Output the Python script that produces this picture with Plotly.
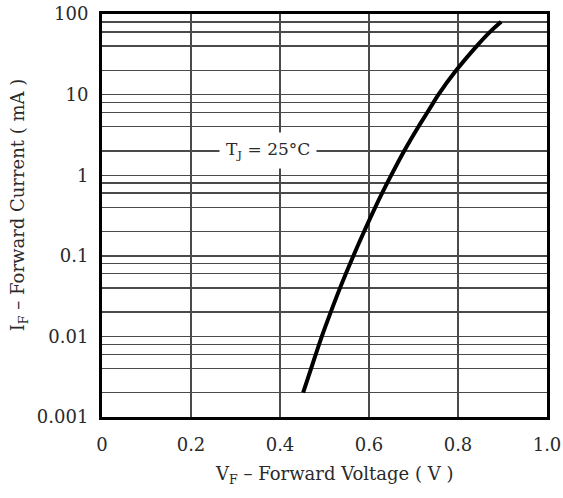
import math
import plotly.graph_objects as go

# Forward characteristic
vf_volts = [0.452, 0.470, 0.494, 0.514, 0.535, 0.565, 0.589, 0.614, 0.650,
            0.679, 0.711, 0.731, 0.745, 0.756, 0.796, 0.842, 0.872, 0.897]
if_ma = [0.002, 0.004, 0.01, 0.02, 0.04, 0.1, 0.2, 0.4, 1,
         2, 4, 6, 8, 10, 20, 40, 60, 80]

x_tick_vals = [0, 0.2, 0.4, 0.6, 0.8, 1.0]
x_tick_text = ["0", "0.2", "0.4", "0.6", "0.8", "1.0"]

y_tick_vals = [0.001, 0.01, 0.1, 1, 10, 100]
y_tick_text = ["0.001", "0.01", "0.1", "1", "10", "100"]
minor_mults = [2, 4, 6, 8]
y_minor_vals = [d * m for d in y_tick_vals[:-1] for m in minor_mults]

note_text = "T<sub>J</sub> = 25°C"
note_x = 0.373
note_y = 2

x_title = "V<sub>F</sub> – Forward Voltage ( V )"
y_title = "I<sub>F</sub> – Forward Current ( mA )"

FONT = "DejaVu Serif"
TXT = "#2a2a2a"
GRID = "#4a4a4a"

fig = go.Figure()
fig.add_trace(go.Scatter(
    x=vf_volts, y=if_ma, mode="lines",
    line=dict(color="black", width=4, shape="spline", smoothing=1),
    showlegend=False, hoverinfo="skip",
))

fig.add_annotation(
    x=note_x, y=math.log10(note_y), xref="x", yref="y",
    text=note_text, showarrow=False,
    font=dict(family=FONT, size=17, color=TXT),
    bgcolor="white", borderpad=6,
)
fig.add_annotation(
    x=0.521, y=-0.144, xref="paper", yref="paper",
    xanchor="center", yanchor="middle",
    text=x_title, showarrow=False,
    font=dict(family=FONT, size=18, color=TXT),
)
fig.add_annotation(
    x=-0.186, y=0.526, xref="paper", yref="paper",
    xanchor="center", yanchor="middle", textangle=-90,
    text=y_title, showarrow=False,
    font=dict(family=FONT, size=18, color=TXT),
)

fig.update_layout(
    width=563, height=498,
    margin=dict(l=102, r=16, t=14, b=81),
    paper_bgcolor="white", plot_bgcolor="white",
    font=dict(family=FONT, size=18, color=TXT),
)

fig.update_xaxes(
    range=[0, 1.0], tickvals=x_tick_vals, ticktext=x_tick_text,
    showgrid=True, gridcolor=GRID, gridwidth=1.4,
    showline=True, linecolor="black", linewidth=3, mirror=True,
    ticks="", zeroline=False, ticklabelstandoff=9, automargin=False,
    ticklabeloverflow="allow",
)
fig.update_yaxes(
    type="log", range=[-3, 2], tickvals=y_tick_vals, ticktext=y_tick_text,
    showgrid=True, gridcolor=GRID, gridwidth=1.4,
    minor=dict(tickvals=y_minor_vals, showgrid=True, gridcolor=GRID,
               gridwidth=1.4, ticks=""),
    showline=True, linecolor="black", linewidth=3, mirror=True,
    ticks="", zeroline=False, ticklabelstandoff=7, automargin=False,
    ticklabeloverflow="allow",
)

# remove the browser's default body margin so the figure sits at the page origin
fig.write_html(
    "out.html",
    config={"displayModeBar": False, "staticPlot": True},
    post_script="document.body.style.margin='0';",
)
